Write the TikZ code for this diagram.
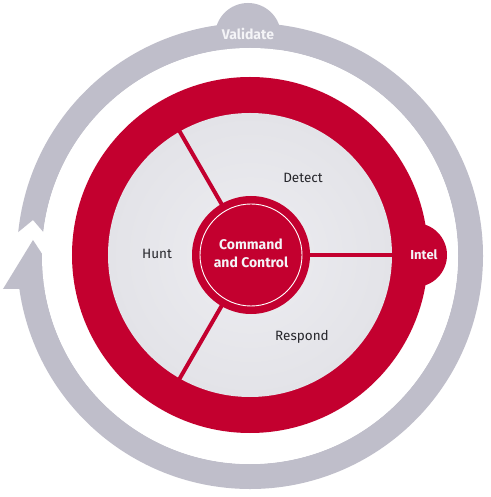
\documentclass[tikz,border=0pt]{standalone}
\usepackage{fontspec}
\usetikzlibrary{calc}
\setmainfont{Fira Sans}
\definecolor{ccred}{HTML}{C3002F}
\definecolor{ccgray}{HTML}{BFBECA}
\definecolor{cclight}{HTML}{EDEDF1}
\definecolor{cclightedge}{HTML}{E3E3E8}
\definecolor{cctext}{HTML}{26262B}
\definecolor{ccwhite}{HTML}{F4F4F7}
\tikzset{
  sectorlabel/.style={font=\fontsize{13.5}{16}\selectfont, text=cctext},
  boldlabel/.style={font=\fontsize{13}{15}\selectfont\bfseries, text=ccwhite},
  divider/.style={draw=ccred, line width=4pt},
}
\begin{document}
\begin{tikzpicture}[x=1pt,y=1pt]
\useasboundingbox (-250,-241) rectangle (240,256);
\fill[white] (-250,-241) rectangle (240,256);
% gray cycle arrow
\fill[ccgray] (189.08:208) arc[start angle=189.08, end angle=533.4, radius=208]
  -- (-217,36) -- (534.1:233) arc[start angle=534.1, end angle=188.14, radius=233]
  -- (-247,-33) -- (-217,16) -- (-185,-33) -- cycle;
% validate bump
\node[circle, fill=ccgray, minimum size=66pt, inner sep=0pt] (validatebump) at (-2,220) {};
\fill[white] (0,0) circle[radius=208];
\node[boldlabel, font=\fontsize{14}{16}\selectfont\bfseries] (validate) at (-2,222) {Validate};
% red ring
\node[circle, fill=ccred, minimum size=356pt, inner sep=0pt] (redring) at (0,1) {};
\node[circle, fill=ccred, minimum size=64pt, inner sep=0pt] (intelbump) at (165,1) {};
\shade[inner color=cclight, outer color=cclightedge] (0,1) circle[radius=142];
\node[circle, minimum size=284pt, inner sep=0pt] (lightdisc) at (0,1) {};
% dividers
\coordinate (c0) at (1,1);
\draw[divider] (c0) -- ($(c0)+(0:150)$) coordinate (d0);
\draw[divider] (c0) -- ($(c0)+(120:150)$) coordinate (d1);
\draw[divider] (c0) -- ($(c0)+(240:150)$) coordinate (d2);
% center
\node[circle, fill=ccred, minimum size=118pt, inner sep=0pt] (center) at (c0) {};
\node[circle, draw=white, line width=0.9pt, minimum size=102pt, inner sep=0pt] (centerring) at (c0) {};
\node[font=\fontsize{14}{18}\selectfont\bfseries, text=ccwhite, align=center] (cmd) at (1,3) {Command\\and Control};
\node[boldlabel] (intel) at (174,1) {Intel};
\node[sectorlabel] (detect) at (53,78) {Detect};
\node[sectorlabel] (hunt) at (-93,2) {Hunt};
\node[sectorlabel] (respond) at (52,-81) {Respond};
\end{tikzpicture}
\end{document}
